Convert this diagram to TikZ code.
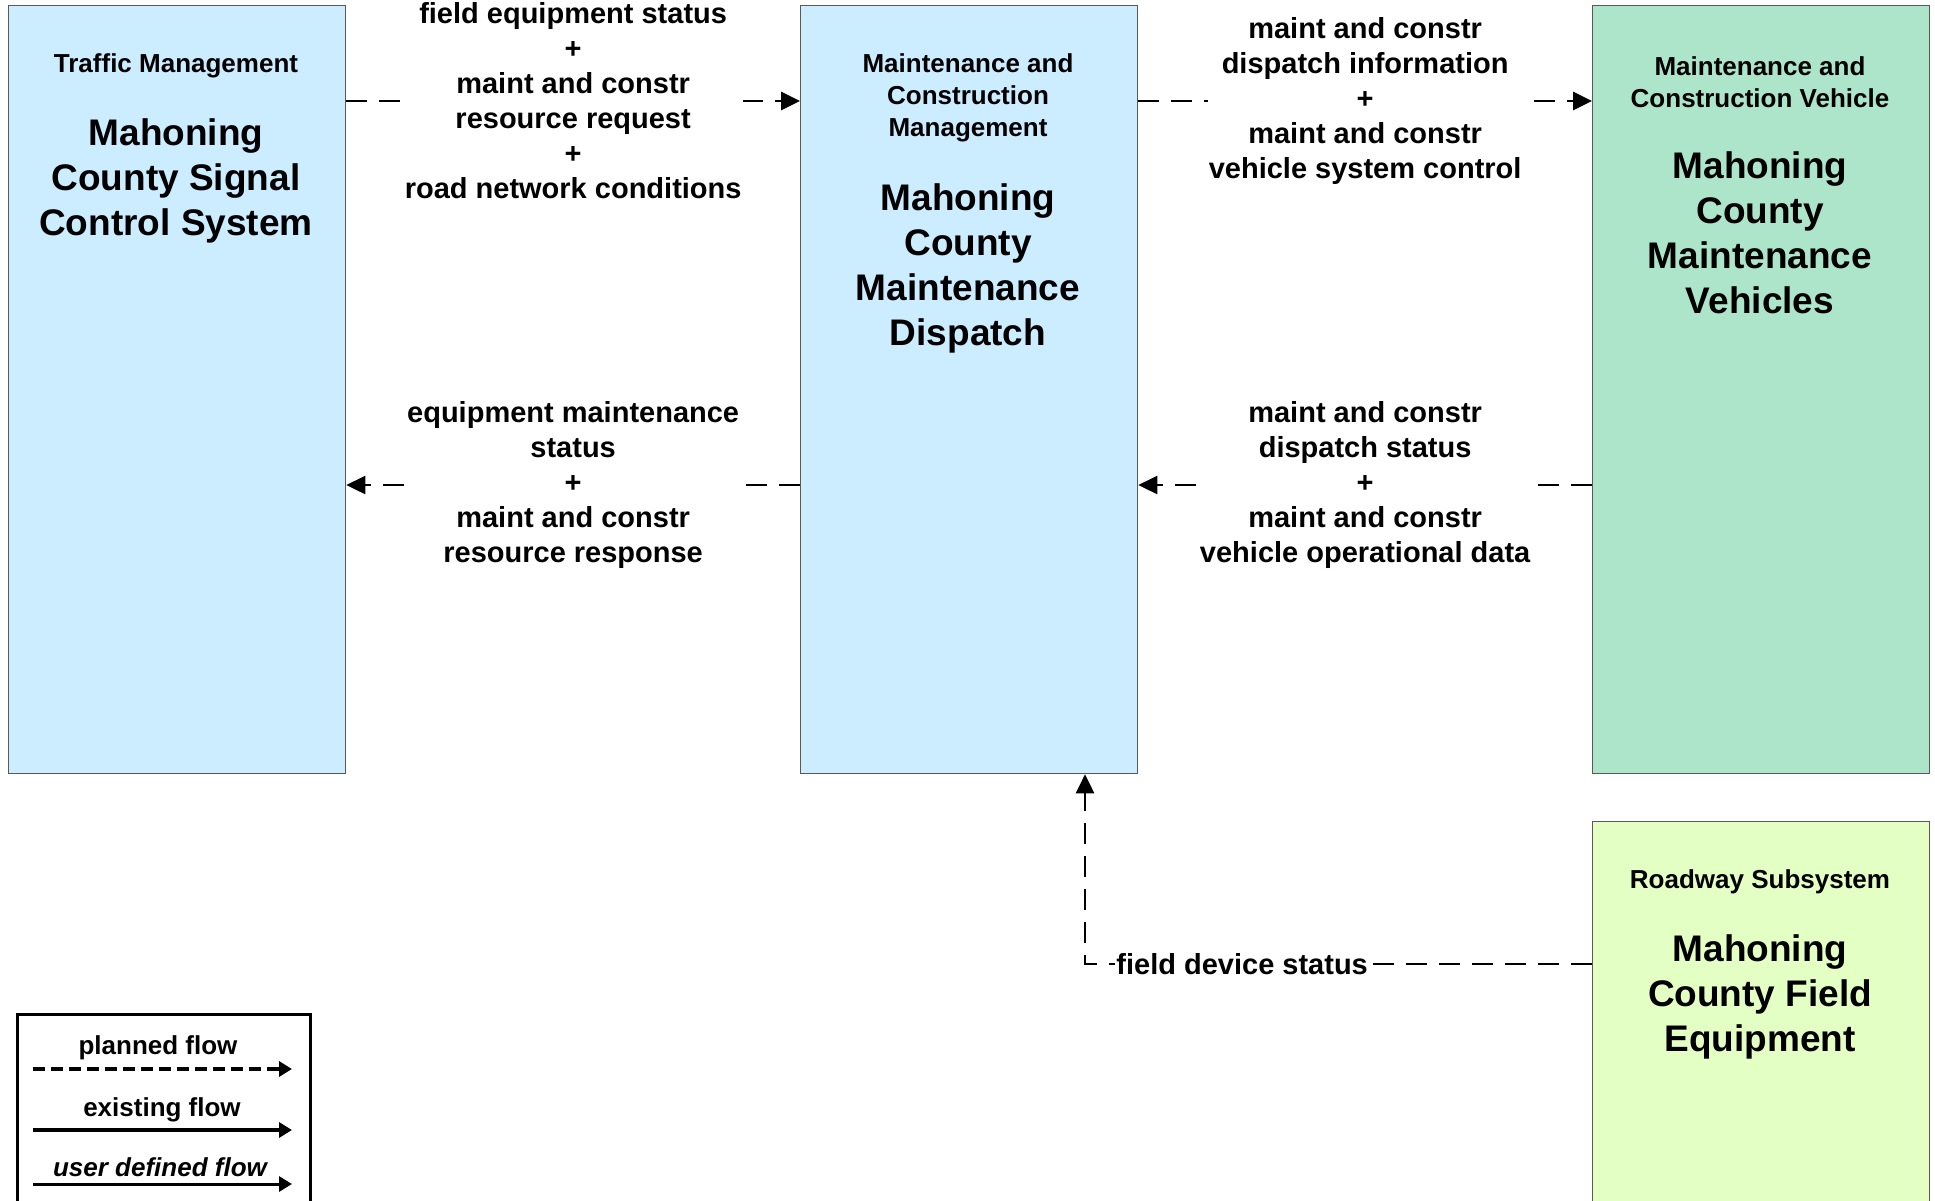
\documentclass[tikz,border=0pt]{standalone}
\usepackage{fontspec}
\setmainfont{Liberation Sans}
\usetikzlibrary{arrows.meta}
\definecolor{tmblue}{HTML}{CCECFF}
\definecolor{mvgreen}{HTML}{ADE5CB}
\definecolor{rsyellow}{HTML}{E3FFC3}
\begin{document}
\begin{tikzpicture}[x=1pt,y=-1pt,
  sysbox/.style={draw=black!65, line width=1.3pt, anchor=north west, inner sep=0pt, minimum width=337pt},
  hdr/.style={font=\fontsize{26}{32}\selectfont\bfseries, align=center},
  ttl/.style={font=\fontsize{37}{45}\selectfont\bfseries, align=center},
  lbl/.style={font=\fontsize{29}{35}\selectfont\bfseries, align=center, fill=white, inner sep=1pt},
  flow/.style={line width=2.7pt, dash pattern=on 21pt off 12pt, -{Triangle[length=19pt,width=18pt]}},
  legtxt/.style={font=\fontsize{26}{30}\selectfont\bfseries},
  legtip/.style={-{Triangle[length=13pt,width=15pt]}}
  ]
\useasboundingbox (0,0) rectangle (1935,1200);
\fill[white] (0,0) rectangle (1935,1200);

% boxes
\node[sysbox, fill=tmblue, minimum height=768pt] (tm) at (8,5) {};
\node[sysbox, fill=tmblue, minimum height=768pt] (mcm) at (800,5) {};
\node[sysbox, fill=mvgreen, minimum height=768pt] (mcv) at (1592,5) {};
\node[sysbox, fill=rsyellow, minimum height=420pt] (fe) at (1592,821) {};

% box texts
\node[hdr] (tmh) at (176,66) {Traffic Management};
\node[hdr] (mcmh) at (968,98) {Maintenance and\\Construction\\Management};
\node[hdr] (mcvh) at (1760,82) {Maintenance and\\Construction Vehicle};
\node[hdr] (feh) at (1760,882) {Roadway Subsystem};
\node[ttl] (tmt) at (176,181) {Mahoning\\County Signal\\Control System};
\node[ttl] (mcmt) at (968,268) {Mahoning\\County\\Maintenance\\Dispatch};
\node[ttl] (mcvt) at (1760,233) {Mahoning\\County\\Maintenance\\Vehicles};
\node[ttl] (fet) at (1760,997) {Mahoning\\County Field\\Equipment};

% flows
\draw[flow] (tm.east |- 0,101) -- (mcm.west |- 0,101)
  node[midway, lbl] (l1) {field equipment status\\+\\maint and constr\\resource request\\+\\road network conditions};
\draw[flow] (mcm.east |- 0,101) -- (mcv.west |- 0,101)
  node[midway, lbl] (l2) {maint and constr\\dispatch information\\+\\maint and constr\\vehicle system control};
\draw[flow] (mcm.west |- 0,485) -- (tm.east |- 0,485)
  node[midway, lbl] (l3) {equipment maintenance\\status\\+\\maint and constr\\resource response};
\draw[flow] (mcv.west |- 0,485) -- (mcm.east |- 0,485)
  node[midway, lbl] (l4) {maint and constr\\dispatch status\\+\\maint and constr\\vehicle operational data};
\coordinate (corner) at (1085,964);
\draw[flow] (fe.west |- corner) -- node[pos=0.69, lbl] (l5) {field device status} (corner) -- (corner |- mcm.south);

% legend
\node[draw, line width=2.5pt, anchor=north west, minimum width=293pt, minimum height=260pt, inner sep=0pt] (leg) at (16,1013) {};
\node[legtxt] (lgp) at (158,1048) {planned flow};
\node[legtxt] (lge) at (162,1110) {existing flow};
\node[legtxt, font=\fontsize{26}{30}\selectfont\bfseries\itshape] (lgu) at (160,1167) {user defined flow};
\coordinate (lp1) at (33,1069); \coordinate (lp2) at (292,1069);
\coordinate (le1) at (33,1130); \coordinate (le2) at (292,1130);
\coordinate (lu1) at (33,1184); \coordinate (lu2) at (292,1184);
\draw[legtip, line width=4pt, dash pattern=on 12pt off 6pt] (lp1) -- (lp2);
\draw[legtip, line width=4pt] (le1) -- (le2);
\draw[legtip, line width=3pt] (lu1) -- (lu2);
\end{tikzpicture}
\end{document}
